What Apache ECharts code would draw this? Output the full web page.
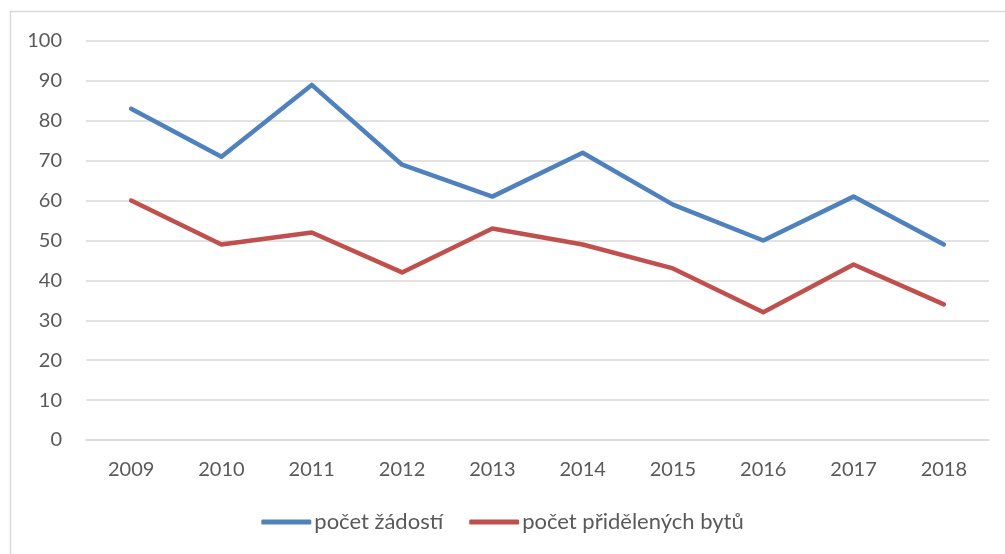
<!DOCTYPE html>
<html><head><meta charset="utf-8">
<script src="https://cdn.jsdelivr.net/npm/echarts@6/dist/echarts.min.js"></script>
<style>html,body{margin:0;padding:0;background:#fff}#c{width:1005px;height:554px}</style>
</head><body><div id="c"></div>
<script>
const years = ['2009','2010','2011','2012','2013','2014','2015','2016','2017','2018'];
const zadosti = [83,71,89,69,61,72,59,50,61,49];
const pridelene = [60,49,52,42,53,49,43,32,44,34];
const seriesNames = ['počet žádostí','počet přidělených bytů'];
const chart = echarts.init(document.getElementById('c'));
const font = 'Lato, "Open Sans", sans-serif';
chart.setOption({
  animation:false,
  graphic:[{type:'rect',shape:{x:10.5,y:11.5,width:1100,height:700},style:{fill:'none',stroke:'#d9d9d9',lineWidth:1.5}}],
  grid:{left:86,right:16,top:41,bottom:114,containLabel:false},
  legend:{bottom:16,left:'center',itemWidth:50,itemHeight:5,itemGap:26,icon:'roundRect',
    textStyle:{fontFamily:font,fontSize:22,color:'#595959',padding:[0,0,0,-2]},
    data:seriesNames},
  xAxis:{type:'category',data:years,boundaryGap:true,
    axisLine:{show:true,lineStyle:{color:'#d9d9d9',width:1.5}},axisTick:{show:false},
    axisLabel:{fontFamily:font,fontSize:20,color:'#595959',margin:20}},
  yAxis:{type:'value',min:0,max:100,interval:10,
    axisLine:{show:false},axisTick:{show:false},
    splitLine:{lineStyle:{color:'#d9d9d9',width:1.5}},
    axisLabel:{fontFamily:font,fontSize:20,color:'#595959',margin:24}},
  series:[
    {name:seriesNames[0],type:'line',data:zadosti,symbol:'none',lineStyle:{color:'#4f81bd',width:4.5,cap:'round',join:'round'},itemStyle:{color:'#4f81bd'}},
    {name:seriesNames[1],type:'line',data:pridelene,symbol:'none',lineStyle:{color:'#c0504d',width:4.5,cap:'round',join:'round'},itemStyle:{color:'#c0504d'}}
  ]
});
</script></body></html>
